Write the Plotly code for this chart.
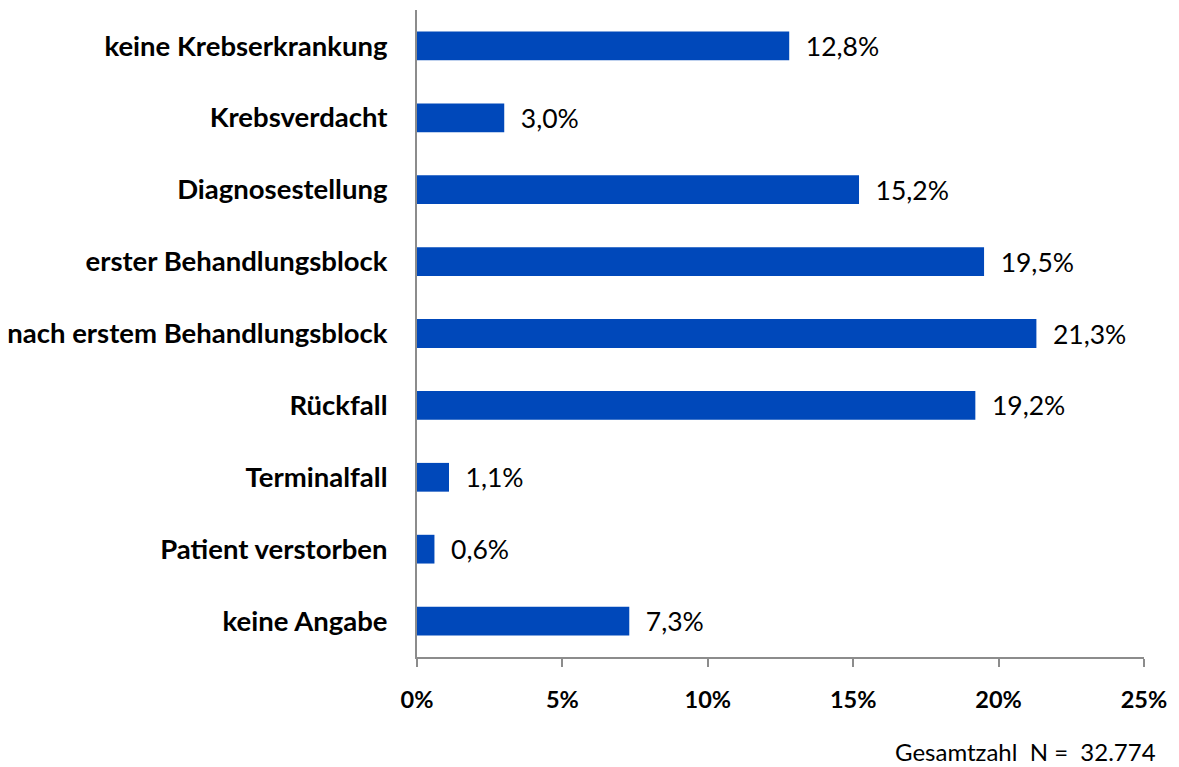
import plotly.graph_objects as go

categories = ["keine Krebserkrankung", "Krebsverdacht", "Diagnosestellung",
              "erster Behandlungsblock", "nach erstem Behandlungsblock", "Rückfall",
              "Terminalfall", "Patient verstorben", "keine Angabe"]
values = [12.8, 3.0, 15.2, 19.5, 21.3, 19.2, 1.1, 0.6, 7.3]
tick_vals = [0, 5, 10, 15, 20, 25]
tick_text = ["0%", "5%", "10%", "15%", "20%", "25%"]
note = "Gesamtzahl  N =  32.774"

FONT = "Lato"

fig = go.Figure(go.Bar(
    x=values, y=categories, orientation="h",
    marker=dict(color="#0048BA", line=dict(width=0)),
    width=0.4,
    texttemplate="  %{x:.1f}%", textposition="outside",
    constraintext="none",
    textfont=dict(family=FONT, size=26.5, color="#000000"),
    cliponaxis=False,
))

fig.update_layout(
    width=1171, height=759,
    margin=dict(l=409, r=35, t=2, b=110),
    plot_bgcolor="white", paper_bgcolor="white",
    separators=",.",
    showlegend=False,
    xaxis=dict(range=[0, 25], tickvals=tick_vals, ticktext=tick_text,
               showgrid=False, zeroline=False, showline=True,
               linecolor="#8c8c8c", linewidth=2,
               ticks="outside", ticklen=8, tickcolor="#8c8c8c", tickwidth=2,
               ticklabelstandoff=13, automargin=False,
               tickfont=dict(family=FONT, size=23.5, color="#000000", weight="bold")),
    yaxis=dict(autorange="reversed", showgrid=False, zeroline=False,
               showline=True, linecolor="#8c8c8c", linewidth=2,
               ticks="", ticklabelstandoff=22, automargin=False,
               tickfont=dict(family=FONT, size=27.5, color="#000000", weight="bold")),
    annotations=[dict(text=note, xref="paper", yref="paper", x=1.0, y=-0.146,
                      xanchor="right", yanchor="middle", xshift=14, showarrow=False,
                      font=dict(family=FONT, size=24, color="#000000"))],
)

fig.write_html("out.html")
